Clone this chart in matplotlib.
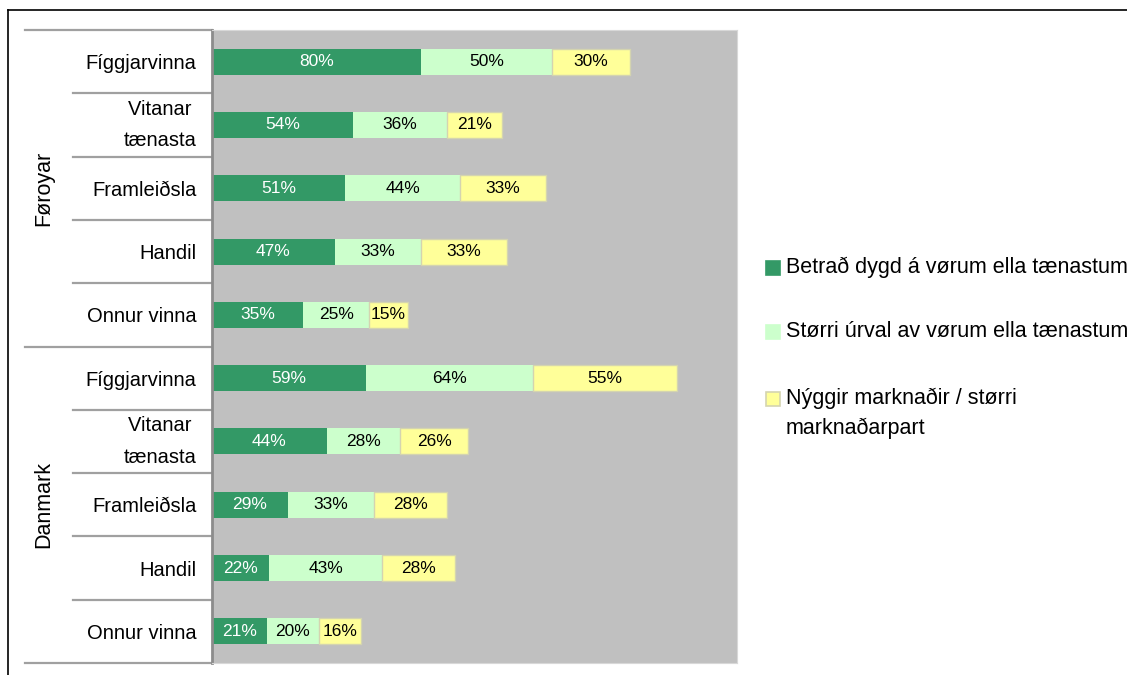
import matplotlib
matplotlib.use("Agg")
import matplotlib.pyplot as plt
from matplotlib.patches import Rectangle
from matplotlib.lines import Line2D

plt.rcParams['font.family'] = ['Liberation Sans', 'DejaVu Sans']

groups = ["Føroyar", "Danmark"]
categories = ["Fíggjarvinna", "Vitanar \ntænasta", "Framleiðsla", "Handil", "Onnur vinna",
              "Fíggjarvinna", "Vitanar \ntænasta", "Framleiðsla", "Handil", "Onnur vinna"]
series_names = ["Betrað dygd á vørum ella tænastum",
                "Størri úrval av vørum ella tænastum",
                "Nýggir marknaðir / størri\nmarknaðarpart"]
quality = [80, 54, 51, 47, 35, 59, 44, 29, 22, 21]
selection = [50, 36, 44, 33, 25, 64, 28, 33, 43, 20]
markets = [30, 21, 33, 33, 15, 55, 26, 28, 28, 16]

colors = ["#339966", "#CCFFCC", "#FFFF99"]
edgecolors = ["none", "none", "#D4D4B0"]
text_colors = ["white", "black", "black"]

W, H = 1127, 675
fig = plt.figure(figsize=(W / 100, H / 100), dpi=100)
ax_l, ax_r, ax_t, ax_b = 212, 737, 30, 663
ax = fig.add_axes([ax_l / W, 1 - ax_b / H, (ax_r - ax_l) / W, (ax_b - ax_t) / H])
ax.set_facecolor("#C0C0C0")

y = list(range(len(categories)))
left = [0] * len(categories)
for s, vals in enumerate([quality, selection, markets]):
    lw = 1.0 if edgecolors[s] != "none" else 0
    bars = ax.barh(y, vals, left=left, height=0.41, color=colors[s],
                   edgecolor=edgecolors[s], linewidth=lw, label=series_names[s])
    for b, v in zip(bars, vals):
        ax.text(b.get_x() + b.get_width() / 2, b.get_y() + b.get_height() / 2,
                f"{v}%", ha="center", va="center", fontsize=12.5, color=text_colors[s])
    left = [l + v for l, v in zip(left, vals)]

ax.set_xlim(0, 201)
ax.set_ylim(len(categories) - 0.5, -0.5)
ax.set_xticks([])
ax.set_yticks(y)
ax.set_yticklabels(categories, fontsize=14.5, ha="right")
ax.tick_params(axis="y", length=0, pad=11)
for lab in ax.get_yticklabels():
    lab.set_multialignment("right")
    if "\n" in lab.get_text():
        lab.set_linespacing(1.85)
        lab.set_va("center")
for sp in ["top", "right", "bottom"]:
    ax.spines[sp].set_color("#D8D8D8")
    ax.spines[sp].set_linewidth(0.8)
ax.spines["left"].set_color("#8C8C8C")
ax.spines["left"].set_linewidth(2)

# separator lines on the category axis
trans = ax.get_yaxis_transform()
short_x = -(ax_l - 73) / (ax_r - ax_l)
long_x = -(ax_l - 25) / (ax_r - ax_l)
for k in range(len(categories) + 1):
    yy = k - 0.5
    x0 = long_x if k in (0, 5, 10) else short_x
    ax.add_line(Line2D([x0, 0], [yy, yy], transform=trans, color="#A0A0A0",
                       linewidth=1.6, clip_on=False))

# group labels
for g, name in enumerate(groups):
    yc = g * 5 + 2.0
    ax.text(-(ax_l - 44) / (ax_r - ax_l), yc, name, transform=trans, rotation=90,
            ha="center", va="center", fontsize=15.5)

# legend (manual)
leg_y = [268, 332, 399]
for s in range(3):
    yc = leg_y[s]
    fig.patches.append(Rectangle((766 / W, 1 - (yc + 7) / H), 14 / W, 14 / H,
                                 transform=fig.transFigure, facecolor=colors[s],
                                 edgecolor=edgecolors[s] if edgecolors[s] != "none" else colors[s],
                                 linewidth=1.2))
    fig.text(786 / W, 1 - (yc - 11) / H, series_names[s], ha="left", va="top",
             fontsize=15.5, linespacing=1.5)

# figure border (top and left visible)
fig.add_artist(Line2D([8 / W, 1.0], [1 - 10 / H, 1 - 10 / H], transform=fig.transFigure,
                      color="black", linewidth=1.2))
fig.add_artist(Line2D([8 / W, 8 / W], [0, 1 - 10 / H], transform=fig.transFigure,
                      color="black", linewidth=1.2))

fig.savefig("out.png", dpi=100)
